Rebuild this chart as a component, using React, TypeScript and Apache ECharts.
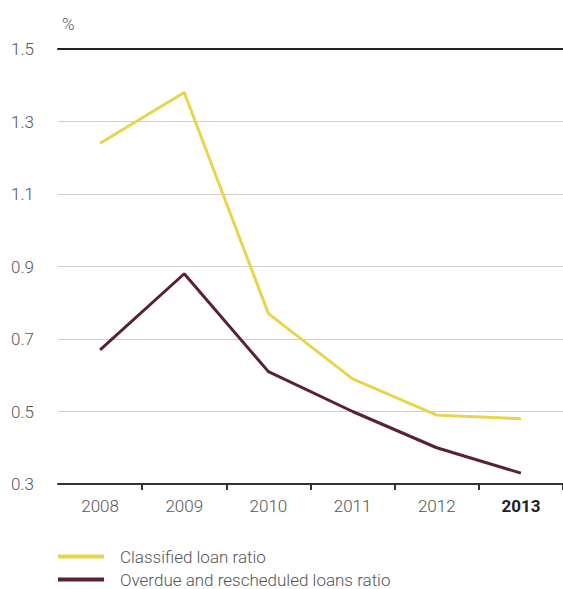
import React, { useEffect, useRef } from "react";
import * as echarts from "echarts";

const years = ["2008", "2009", "2010", "2011", "2012", "2013"];
const classifiedLoanRatio = [1.24, 1.38, 0.77, 0.59, 0.49, 0.48];
const overdueRescheduledRatio = [0.67, 0.88, 0.61, 0.5, 0.4, 0.33];
const yTicks = { min: 0.3, max: 1.5, interval: 0.2 };
const seriesNames = ["Classified loan ratio", "Overdue and rescheduled loans ratio"];

const FONT = "Roboto";

export default function App() {
  const ref = useRef<HTMLDivElement>(null);
  useEffect(() => {
    document.body.style.margin = "0";
    const chart = echarts.init(ref.current!, null, { renderer: "svg" });
    const legendBase = {
      orient: "horizontal",
      left: 58,
      itemWidth: 46,
      itemHeight: 4,
      icon: "rect",
      padding: 0,
      textStyle: {
        fontSize: 17,
        lineHeight: 17,
        color: "#555",
        fontFamily: FONT,
        fontWeight: 300,
        padding: [0, 0, 0, 11],
      },
    };
    chart.setOption({
      animation: false,
      backgroundColor: "#fff",
      textStyle: { fontFamily: FONT },
      grid: { left: 58, right: 0, top: 49, bottom: 105, containLabel: false },
      legend: [
        { ...legendBase, top: 548, data: [seriesNames[0]] },
        { ...legendBase, top: 571, data: [seriesNames[1]] },
      ],
      graphic: [
        {
          type: "text",
          left: 62,
          top: 15,
          style: { text: "%", fontSize: 17, fill: "#555", fontFamily: FONT, fontWeight: 300 },
        },
      ],
      xAxis: [
        {
          type: "category",
          data: years,
          boundaryGap: true,
          axisLine: { lineStyle: { color: "#333", width: 2 } },
          axisTick: {
            show: true,
            length: 6,
            inside: false,
            lineStyle: { color: "#333", width: 2 },
            interval: (i: number) => i !== 0,
          },
          axisLabel: {
            fontSize: 17,
            color: "#555",
            margin: 13,
            fontFamily: FONT,
            fontWeight: 300,
            formatter: (v: string) => (v === "2013" ? "{b|" + v + "}" : v),
            rich: { b: { fontWeight: "bold", color: "#222", fontSize: 17, fontFamily: FONT } },
          },
        },
        {
          type: "category",
          data: years,
          position: "top",
          axisLine: { lineStyle: { color: "#222", width: 2 } },
          axisTick: { show: false },
          axisLabel: { show: false },
        },
      ],
      yAxis: {
        type: "value",
        min: yTicks.min,
        max: yTicks.max,
        interval: yTicks.interval,
        axisLine: { show: false },
        axisTick: { show: false },
        axisLabel: {
          align: "left",
          margin: 47,
          fontSize: 17,
          color: "#555",
          fontFamily: FONT,
          fontWeight: 300,
          formatter: (v: number) => v.toFixed(1),
        },
        splitLine: { lineStyle: { color: "#cfcfcf", width: 1 } },
      },
      series: [
        {
          name: seriesNames[0],
          type: "line",
          data: classifiedLoanRatio,
          symbol: "none",
          lineStyle: { color: "#E8D44D", width: 3 },
          itemStyle: { color: "#E8D44D" },
        },
        {
          name: seriesNames[1],
          type: "line",
          data: overdueRescheduledRatio,
          symbol: "none",
          lineStyle: { color: "#5A2035", width: 3 },
          itemStyle: { color: "#5A2035" },
        },
      ],
    });
    return () => chart.dispose();
  }, []);
  return <div ref={ref} style={{ width: 563, height: 589 }} />;
}
